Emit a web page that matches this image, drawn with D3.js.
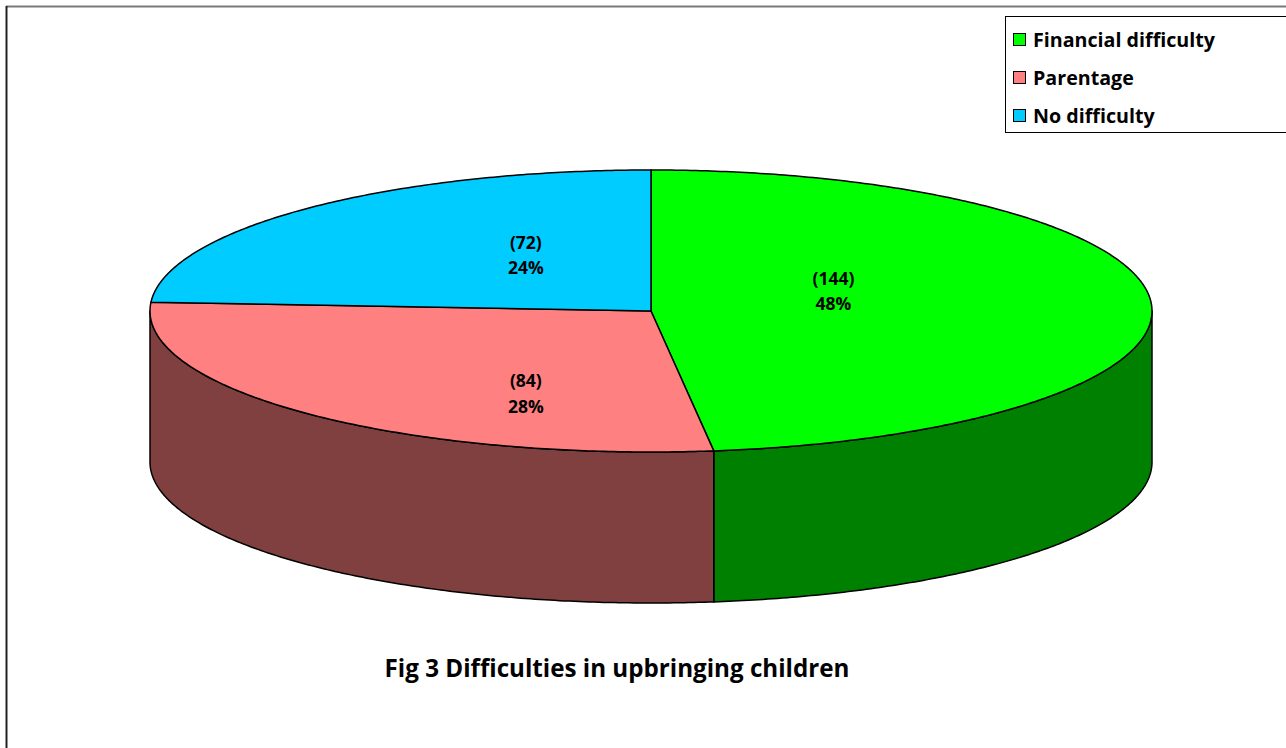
<!DOCTYPE html>
<html>
<head>
<meta charset="utf-8">
<script src="https://cdn.jsdelivr.net/npm/d3@7"></script>
<style>
  body { margin: 0; background: #fff; }
  text { font-family: "Open Sans", "Noto Sans", sans-serif; font-weight: bold; fill: #000; font-variant-ligatures: none; }
</style>
</head>
<body>
<div id="chart"></div>
<script>
// chart values
const categories = ["Financial difficulty", "Parentage", "No difficulty"];
const counts = [144, 84, 72];
const percents = [48, 28, 24];
const topColors = ["#00ff00", "#ff8080", "#00ccff"];
const sideColors = ["#008000", "#804040", "#006699"];
const chartTitle = "Fig 3 Difficulties in upbringing children";

const W = 1286, H = 748;
const cx = 651, cy = 311, rx = 501, ry = 141, depth = 151;

const svg = d3.select("#chart").append("svg")
    .attr("width", W)
    .attr("height", H);

// shrink/grow a text until it is as wide as the original
function fitWidth(sel, target, size) {
    sel.style("font-size", size + "px");
    const w = sel.node().getComputedTextLength();
    sel.style("font-size", (size * target / w).toFixed(2) + "px");
}

// outer frame
svg.append("line").attr("x1", 6).attr("y1", 6.5).attr("x2", W).attr("y2", 6.5)
    .attr("stroke", "#7a7a7a").attr("stroke-width", 2);
svg.append("line").attr("x1", 6.5).attr("y1", 6).attr("x2", 6.5).attr("y2", H)
    .attr("stroke", "#222").attr("stroke-width", 2);

const data = categories.map((c, i) => ({ name: c, count: counts[i], pct: percents[i], i: i }));

const pie = d3.pie().sort(null).value(d => d.count);
const arcs = pie(data);

// angle measured clockwise from 12 o'clock
const px = a => cx + rx * Math.sin(a);
const py = a => cy - ry * Math.cos(a);

function samples(a0, a1) {
    const n = Math.max(2, Math.ceil(Math.abs(a1 - a0) / 0.01));
    return d3.range(n + 1).map(k => a0 + (a1 - a0) * k / n);
}

const line = d3.line();

// side walls (front half only)
const sides = svg.append("g");
arcs.forEach(a => {
    const s = Math.max(a.startAngle, Math.PI / 2);
    const e = Math.min(a.endAngle, 3 * Math.PI / 2);
    if (e <= s) return;
    const topPts = samples(s, e).map(t => [px(t), py(t)]);
    const botPts = samples(e, s).map(t => [px(t), py(t) + depth]);
    sides.append("path")
        .attr("d", line(topPts.concat(botPts)) + "Z")
        .attr("fill", sideColors[a.data.i])
        .attr("stroke", "#000")
        .attr("stroke-width", 1.5)
        .attr("stroke-linejoin", "round");
});

// top faces
const tops = svg.append("g");
arcs.forEach(a => {
    const pts = [[cx, cy]].concat(samples(a.startAngle, a.endAngle).map(t => [px(t), py(t)]));
    tops.append("path")
        .attr("d", line(pts) + "Z")
        .attr("fill", topColors[a.data.i])
        .attr("stroke", "#000")
        .attr("stroke-width", 1.5)
        .attr("stroke-linejoin", "round");
});

// slice labels
const labels = svg.append("g");
arcs.forEach(a => {
    const m = (a.startAngle + a.endAngle) / 2;
    const front = -Math.cos(m);
    const k = 0.675 + 0.37 * front;
    const lx = cx + 0.365 * rx * Math.sin(m);
    const ly = cy - 18 + k * ry * front;
    const t = labels.append("text")
        .attr("x", lx)
        .attr("y", ly)
        .attr("text-anchor", "middle")
        .style("font-size", "17.5px");
    t.append("tspan").attr("x", lx).attr("dy", "-0.15em").text("(" + a.data.count + ")");
    t.append("tspan").attr("x", lx).attr("dy", "1.45em").text(a.data.pct + "%");
});

// legend
const legend = svg.append("g");
legend.append("rect")
    .attr("x", 1005.5).attr("y", 16.5)
    .attr("width", 300).attr("height", 116)
    .attr("fill", "#fff")
    .attr("stroke", "#000")
    .attr("stroke-width", 1);

const legY = d3.scalePoint().domain(categories).range([40, 116]);
let legSize = 18;
categories.forEach((c, i) => {
    const y = legY(c);
    legend.append("rect")
        .attr("x", 1013.5).attr("y", y - 6.5)
        .attr("width", 12).attr("height", 12)
        .attr("fill", topColors[i])
        .attr("stroke", "#000")
        .attr("stroke-width", 1);
    const t = legend.append("text")
        .attr("x", 1033)
        .attr("y", y + 7)
        .text(c);
    if (i === 0) {
        fitWidth(t, 182, 18);
        legSize = t.style("font-size");
    } else {
        t.style("font-size", legSize);
    }
});

// title
const title = svg.append("text")
    .attr("x", 617)
    .attr("y", 677)
    .attr("text-anchor", "middle")
    .text(chartTitle);
fitWidth(title, 465, 22);
</script>
</body>
</html>
